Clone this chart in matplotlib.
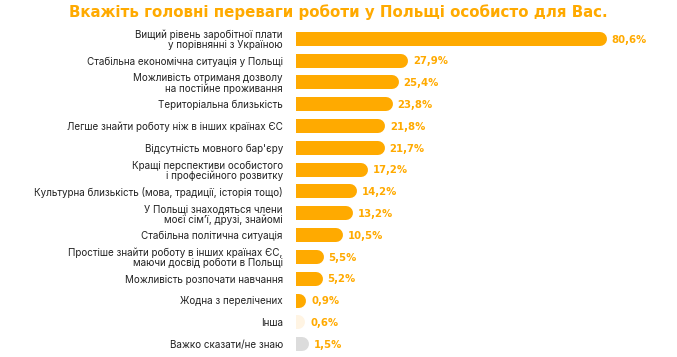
import matplotlib
matplotlib.use('Agg')
import matplotlib.pyplot as plt

# Data
labels = [
    'Вищий рівень заробітної плати\nу порівнянні з Україною',
    'Стабільна економічна ситуація у Польщі',
    'Можливість отриманя дозволу\nна постійне проживання',
    'Територіальна близькість',
    'Легше знайти роботу ніж в інших країнах ЄС',
    "Відсутність мовного бар'єру",
    'Кращі перспективи особистого\nі професійного розвитку',
    'Культурна близькість (мова, традиції, історія тощо)',
    'У Польщі знаходяться члени\nмоєї сім’ї, друзі, знайомі',
    'Стабільна політична ситуація',
    'Простіше знайти роботу в інших країнах ЄС,\nмаючи досвід роботи в Польщі',
    'Можливість розпочати навчання',
    'Жодна з перелічених',
    'Інша',
    'Важко сказати/не знаю',
]
values = [80.6, 27.9, 25.4, 23.8, 21.8, 21.7, 17.2, 14.2, 13.2, 10.5, 5.5, 5.2, 0.9, 0.6, 1.5]
bar_colors = ['#FFAA00'] * 13 + ['#FFF4E3', '#DCDCDC']

orange = '#FFAA00'
plt.rcParams['font.family'] = ['Inter', 'DejaVu Sans']

W, H, DPI = 6.77, 3.57, 100
fig = plt.figure(figsize=(W, H), dpi=DPI)
ax = fig.add_axes([296 / 677, 2 / 357, 381 / 677, 327 / 357])

bar_px = 14  # bar thickness in pixels
lw = bar_px * 72 / DPI
ypos = list(range(len(values)))

for y, v, c in zip(ypos, values, bar_colors):
    # thick line with round caps; left cap is clipped by the axes edge
    ax.plot([0, v], [y, y], color=c, linewidth=lw, solid_capstyle='round')
    ax.annotate(f'{v:.1f}%'.replace('.', ','), xy=(v, y), xytext=(8.5, -0.5),
                textcoords='offset points', ha='left', va='center',
                fontsize=7.3, fontweight='bold', color=orange, family='DejaVu Sans')

ax.set_xlim(0, 101)
ax.set_ylim(len(values) - 0.5, -0.5)
ax.set_yticks(ypos)
ax.set_yticklabels(labels, fontsize=7.1, color='#222222', linespacing=1.0)
ax.tick_params(axis='y', length=0, pad=9.5)
ax.set_xticks([])
for s in ax.spines.values():
    s.set_visible(False)

fig.text(0.5, 1 - 12 / 357, 'Вкажіть головні переваги роботи у Польщі особисто для Вас.',
         ha='center', va='center', fontsize=10.8, fontweight='bold', color=orange,
         family='DejaVu Sans')

fig.savefig('out.png', dpi=DPI)
